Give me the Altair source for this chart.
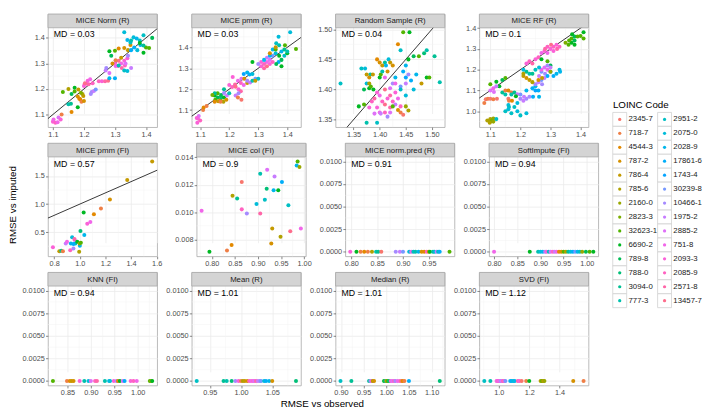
import math
import altair as alt
import pandas as pd

FONT = "Liberation Sans"

codes = ["2345-7", "718-7", "4544-3", "787-2", "786-4", "785-6", "2160-0", "2823-3",
         "32623-1", "6690-2", "789-8", "788-0", "3094-0", "777-3",
         "2951-2", "2075-0", "2028-9", "17861-6", "1743-4", "30239-8", "10466-1",
         "1975-2", "2885-2", "751-8", "2093-3", "2085-9", "2571-8", "13457-7"]

titles = ["MICE Norm (R)", "MICE pmm (R)", "Random Sample (R)", "MICE RF (R)",
          "MICE pmm (FI)", "MICE col (FI)", "MICE norm.pred (R)", "SoftImpute (FI)",
          "KNN (FI)", "Mean (R)", "Median (R)", "SVD (FI)"]
md_values = ["0.03", "0.03", "0.04", "0.1", "0.57", "0.9", "0.91", "0.94", "0.94", "1.01", "1.01", "1.12"]

# (x, y, code index)
p1 = [(1.100,1.072,24),(1.102,1.080,23),(1.108,1.068,25),(1.118,1.088,22),(1.125,1.080,24),(1.115,1.070,23),
      (1.128,1.100,1),(1.160,1.110,2),(1.180,1.128,9),(1.150,1.140,13),(1.158,1.142,12),
      (1.132,1.188,8),(1.150,1.200,5),(1.170,1.205,9),(1.182,1.198,4),
      (1.180,1.170,3),(1.188,1.160,2),(1.192,1.150,1),(1.198,1.172,4),(1.200,1.153,3),(1.185,1.162,2),(1.195,1.180,5),
      (1.160,1.180,10),(1.170,1.190,8),(1.190,1.185,7),
      (1.200,1.212,24),(1.208,1.220,25),(1.215,1.218,26),(1.212,1.232,24),(1.220,1.238,23),(1.228,1.222,25),(1.203,1.222,27),
      (1.225,1.188,20),(1.232,1.192,21),(1.238,1.198,19),(1.222,1.180,20),
      (1.248,1.230,25),(1.258,1.230,24),(1.268,1.230,26),(1.278,1.232,27),(1.282,1.242,16),(1.300,1.242,17),
      (1.270,1.272,21),(1.272,1.282,20),(1.282,1.262,22),
      (1.300,1.300,24),(1.310,1.290,25),(1.320,1.300,23),(1.330,1.310,24),(1.322,1.282,26),(1.312,1.310,27),
      (1.332,1.292,25),(1.340,1.320,24),(1.302,1.290,23),(1.334,1.300,22),
      (1.292,1.300,3),(1.302,1.312,1),(1.320,1.322,4),(1.330,1.360,3),(1.312,1.358,2),(1.342,1.352,4),(1.350,1.372,3),
      (1.288,1.330,10),(1.300,1.350,8),(1.282,1.348,9),(1.330,1.272,14),(1.340,1.270,15),(1.312,1.292,13),
      (1.352,1.282,21),(1.342,1.330,20),
      (1.330,1.422,15),(1.340,1.392,16),(1.350,1.382,14),(1.360,1.402,15),(1.370,1.398,16),(1.380,1.390,14),
      (1.362,1.362,17),(1.372,1.352,15),(1.382,1.372,16),(1.392,1.410,14),(1.352,1.352,17),
      (1.380,1.380,9),(1.400,1.362,8),(1.420,1.400,10),(1.410,1.360,8),(1.392,1.342,9),
      (1.352,1.390,13),(1.392,1.370,12)]

p2 = [(1.090,1.040,24),(1.092,1.060,23),(1.100,1.050,25),(1.095,1.072,22),(1.088,1.062,24),
      (1.110,1.100,1),(1.112,1.112,2),(1.122,1.120,1),
      (1.150,1.170,9),(1.160,1.160,10),(1.152,1.150,8),(1.162,1.142,4),(1.170,1.150,3),(1.180,1.140,5),
      (1.172,1.160,11),(1.160,1.180,8),(1.150,1.180,12),(1.182,1.160,9),(1.142,1.172,7),(1.172,1.172,10),
      (1.150,1.140,2),(1.170,1.140,1),(1.190,1.150,3),(1.182,1.182,20),(1.192,1.170,21),
      (1.200,1.180,13),(1.182,1.200,12),
      (1.200,1.220,24),(1.210,1.210,25),(1.220,1.222,26),(1.212,1.258,24),(1.230,1.240,23),(1.240,1.230,25),
      (1.222,1.212,27),(1.232,1.200,24),(1.240,1.190,26),(1.250,1.220,23),(1.242,1.250,22),
      (1.232,1.180,20),(1.222,1.170,21),(1.230,1.160,1),(1.242,1.150,0),(1.252,1.250,3),(1.262,1.230,4),
      (1.262,1.280,16),(1.270,1.270,17),(1.280,1.272,15),(1.250,1.272,18),
      (1.262,1.240,20),(1.272,1.232,21),(1.290,1.250,19),(1.280,1.240,13),(1.300,1.250,14),(1.290,1.240,4),
      (1.280,1.330,9),
      (1.310,1.310,24),(1.320,1.320,25),(1.330,1.330,23),(1.340,1.320,24),(1.320,1.300,26),(1.330,1.310,27),
      (1.340,1.340,22),(1.350,1.330,25),(1.310,1.330,24),
      (1.300,1.320,20),(1.330,1.350,21),(1.350,1.360,19),
      (1.320,1.340,16),(1.340,1.360,17),(1.360,1.372,15),(1.362,1.420,14),(1.370,1.450,15),(1.380,1.380,16),
      (1.390,1.360,14),(1.370,1.330,17),(1.410,1.472,15),(1.350,1.390,16),
      (1.360,1.390,8),(1.372,1.360,9),(1.380,1.340,10),(1.392,1.410,8),(1.400,1.372,9),(1.430,1.392,8),
      (1.362,1.320,10),(1.380,1.310,9),(1.372,1.410,13),(1.390,1.390,12),(1.400,1.380,13),
      (1.340,1.372,3),(1.360,1.400,4)]

p3 = [(1.325,1.410,14),(1.375,1.345,13),(1.395,1.345,14),
      (1.360,1.372,9),(1.370,1.375,8),(1.370,1.400,10),(1.380,1.402,9),
      (1.365,1.435,14),(1.372,1.435,15),(1.382,1.425,13),(1.375,1.410,15),
      (1.375,1.425,4),(1.380,1.420,3),(1.387,1.425,4),(1.380,1.410,5),(1.383,1.405,8),(1.388,1.400,9),
      (1.395,1.450,2),(1.400,1.445,3),(1.405,1.440,4),(1.400,1.420,9),(1.402,1.425,8),
      (1.405,1.430,13),(1.410,1.445,12),(1.412,1.440,16),(1.417,1.450,15),
      (1.415,1.430,3),(1.420,1.445,4),(1.425,1.440,3),
      (1.435,1.475,2),(1.440,1.465,14),(1.445,1.495,8),(1.457,1.495,9),
      (1.380,1.370,24),(1.385,1.380,25),(1.390,1.385,26),(1.395,1.370,24),(1.400,1.390,23),(1.405,1.380,25),
      (1.410,1.375,27),(1.415,1.385,24),(1.420,1.390,26),(1.425,1.380,25),(1.430,1.395,24),(1.400,1.362,23),
      (1.390,1.360,22),(1.410,1.362,25),(1.420,1.370,26),(1.395,1.395,24),(1.410,1.400,27),(1.435,1.385,23),
      (1.440,1.372,25),
      (1.402,1.360,21),(1.415,1.355,20),(1.420,1.362,22),(1.430,1.375,21),(1.425,1.410,20),(1.440,1.405,19),
      (1.450,1.410,21),(1.455,1.425,20),
      (1.410,1.420,23),(1.420,1.402,22),(1.430,1.410,23),
      (1.430,1.420,16),(1.445,1.430,17),(1.450,1.420,18),(1.450,1.440,16),(1.460,1.415,17),(1.465,1.400,15),
      (1.470,1.425,16),
      (1.455,1.450,9),(1.465,1.455,10),(1.475,1.455,8),(1.485,1.460,11),
      (1.490,1.465,13),(1.505,1.455,12),(1.515,1.412,13),(1.440,1.400,14),(1.450,1.390,15),
      (1.490,1.420,9),(1.495,1.420,8),(1.455,1.365,5),(1.480,1.410,4),
      (1.440,1.362,1),(1.445,1.358,0),(1.435,1.366,3),(1.425,1.372,8),(1.450,1.372,6)]

p4 = [(1.090,0.955,5),(1.100,0.950,6),(1.100,0.962,5),(1.110,0.965,6),(1.105,0.955,7),(1.098,0.945,5),(1.110,0.950,6),
      (1.120,0.962,14),
      (1.080,1.040,1),(1.085,1.058,0),(1.092,1.060,1),(1.100,1.060,0),(1.110,1.058,1),(1.122,1.060,0),
      (1.100,1.130,8),(1.120,1.142,9),(1.140,1.150,10),(1.150,1.160,8),(1.130,1.120,9),
      (1.100,1.100,22),(1.110,1.110,23),(1.120,1.120,21),(1.112,1.092,22),(1.140,1.090,12),(1.150,1.080,13),
      (1.150,1.100,1),(1.160,1.100,2),(1.170,1.090,1),(1.160,1.060,0),(1.162,1.050,1),(1.172,1.050,2),
      (1.150,1.000,14),(1.160,1.030,15),(1.162,1.020,14),(1.160,1.010,15),(1.170,0.990,14),(1.190,1.000,15),
      (1.200,0.980,14),(1.220,0.990,15),(1.180,1.020,14),(1.190,1.040,15),(1.170,1.080,13),(1.180,1.090,12),
      (1.200,1.060,20),(1.210,1.050,21),(1.220,1.060,20),(1.212,1.070,21),(1.230,1.070,20),(1.200,1.080,19),
      (1.190,1.082,21),(1.185,1.072,9),
      (1.220,1.100,16),(1.240,1.110,17),(1.250,1.120,16),(1.250,1.100,18),(1.260,1.100,17),(1.262,1.070,16),
      (1.242,1.070,17),
      (1.250,1.130,20),(1.260,1.140,21),(1.270,1.150,19),(1.272,1.130,20),(1.280,1.160,21),(1.282,1.180,20),
      (1.270,1.190,19),(1.262,1.170,21),(1.270,1.200,23),(1.280,1.210,22),(1.290,1.200,23),
      (1.210,1.170,4),(1.220,1.160,3),(1.230,1.150,4),(1.240,1.140,5),(1.260,1.150,3),(1.272,1.160,4),
      (1.220,1.190,12),(1.230,1.180,13),(1.240,1.180,12),(1.210,1.200,15),(1.250,1.200,14),(1.262,1.210,15),
      (1.220,1.230,24),(1.230,1.240,25),(1.240,1.230,26),(1.250,1.250,24),(1.260,1.260,25),(1.270,1.280,23),
      (1.280,1.290,24),(1.282,1.300,26),(1.290,1.310,25),(1.300,1.300,24),(1.302,1.320,27),(1.310,1.310,25),
      (1.320,1.320,24),(1.322,1.300,26),(1.330,1.310,25),(1.290,1.280,23),(1.310,1.290,24),
      (1.270,1.250,9),(1.290,1.240,8),(1.300,1.220,10),
      (1.300,1.190,16),(1.310,1.170,17),(1.320,1.180,16),(1.330,1.200,15),(1.332,1.190,16),(1.290,1.170,17),
      (1.290,1.220,20),(1.300,1.210,21),
      (1.360,1.320,8),(1.370,1.330,9),(1.370,1.350,8),(1.380,1.360,10),(1.390,1.360,8),(1.410,1.380,9),
      (1.410,1.350,8),(1.372,1.370,9),(1.380,1.340,10),(1.362,1.340,8),(1.380,1.320,9),(1.400,1.362,8),
      (1.210,1.180,5),(1.300,1.190,6),(1.350,1.330,7)]

p5 = [(0.790,0.23,24),(0.840,0.16,4),(0.855,0.17,12),(0.868,0.16,1),(0.890,0.30,21),(0.900,0.33,23),
      (0.925,0.18,25),(0.950,0.21,20),(0.940,0.41,15),(0.930,0.30,16),(0.965,0.30,14),(0.950,0.29,17),
      (0.960,0.36,21),(0.958,0.38,26),(0.980,0.33,9),(1.000,0.26,16),(0.998,0.30,6),(0.995,0.15,5),
      (1.008,0.31,8),(1.005,0.52,11),(1.035,0.45,16),(1.030,0.85,9),(1.058,0.65,24),(1.082,0.68,23),
      (1.110,0.82,2),(1.165,0.92,1),(1.235,1.08,3),(1.370,1.43,4),(1.565,1.76,4)]

p6 = [(0.778,0.0101,23),(0.795,0.0071,9),(0.833,0.0072,1),(0.843,0.0076,2),(0.845,0.0112,5),(0.855,0.0110,12),
      (0.865,0.0122,0),(0.865,0.0102,25),(0.876,0.0099,20),(0.897,0.0106,15),(0.905,0.0128,13),(0.905,0.0099,26),
      (0.915,0.0109,14),(0.919,0.0117,11),(0.920,0.0131,22),(0.931,0.0088,4),(0.934,0.0116,16),(0.936,0.0126,21),
      (0.929,0.0077,3),(0.944,0.0116,9),(0.952,0.0122,17),(0.949,0.0082,5),(0.966,0.0105,14),(0.970,0.0086,27),
      (0.984,0.0134,16),(0.986,0.0137,8),(0.990,0.0133,6),(0.993,0.0088,23)]

# panels whose imputed RMSE is 0 for every code: x values and code indexes
p7_x = [0.798,0.810,0.818,0.825,0.832,0.840,0.848,0.852,0.858,0.886,0.894,0.900,0.912,0.916,0.920,0.924,
        0.930,0.936,0.941,0.946,0.950,0.952,0.958,0.961,0.965,0.968,0.971,0.990]
p7_c = [24,9,1,2,1,5,13,12,0,20,21,19,15,23,14,13,16,3,2,25,4,9,12,15,21,14,17,8]
p8_x = [0.800,0.877,0.895,0.900,0.905,0.910,0.913,0.918,0.922,0.927,0.931,0.935,0.940,0.945,0.950,0.955,
        0.960,0.965,0.970,0.975,0.980,0.985,0.990,0.998,1.006,1.014]
p8_c = [23,9,13,15,16,20,24,14,22,25,21,23,2,3,8,5,12,15,17,19,16,14,6,10,8,9]
p9_x = [0.819,0.849,0.855,0.859,0.863,0.876,0.886,0.895,0.900,0.909,0.913,0.930,0.939,0.941,0.949,0.955,
        0.958,0.962,0.968,0.972,0.985,0.991,0.998,1.026,1.029,1.031]
p9_c = [8,1,2,4,3,24,13,15,22,25,26,13,16,15,24,20,2,9,22,17,24,25,23,8,6,9]
p10_x = [0.929,0.972,0.977,0.985,0.991,0.996,1.000,1.003,1.006,1.010,1.013,1.016,1.019,1.021,1.024,1.027,
         1.030,1.032,1.037,1.040,1.045,1.050,1.088]
p10_c = [14,12,13,11,20,24,1,5,4,3,25,23,24,22,26,21,20,19,15,17,16,3,11]
p11_x = [0.899,0.923,0.962,0.965,0.968,0.970,0.973,0.995,0.998,1.000,1.003,1.006,1.010,1.013,1.017,1.020,
         1.025,1.030,1.033,1.036,1.040,1.050,1.118]
p11_c = [14,12,12,20,23,5,3,9,13,5,8,11,24,22,25,20,23,24,0,2,1,17,11]
p12_x = [0.904,0.944,0.985,0.990,0.995,1.000,1.005,1.010,1.015,1.020,1.028,1.035,1.043,1.075,1.085,1.095,
         1.105,1.125,1.135,1.150,1.180,1.200,1.275,1.285,1.292,1.300,1.490,1.558]
p12_c = [14,13,24,22,25,23,24,21,20,22,26,24,19,16,17,15,16,26,24,0,1,9,5,8,4,6,3,1]
zero_y_range = [0.0, 0.01]

# tick labels per panel
x_ticks = [[1.1,1.2,1.3,1.4],[1.1,1.2,1.3,1.4],[1.35,1.40,1.45,1.50],[1.1,1.2,1.3,1.4],
           [0.8,1.0,1.2,1.4,1.6],[0.80,0.85,0.90,0.95,1.00],[0.80,0.85,0.90,0.95,1.00],[0.80,0.85,0.90,0.95,1.00],
           [0.85,0.90,0.95,1.00],[0.95,1.00,1.05],[0.90,0.95,1.00,1.05,1.10],[1.0,1.2,1.4]]
x_fmt = [".1f",".1f",".2f",".1f",".1f",".2f",".2f",".2f",".2f",".2f",".2f",".1f"]
y_zero_ticks = [0.0,0.0025,0.005,0.0075,0.01]
y_ticks = [[1.1,1.2,1.3,1.4],[1.1,1.2,1.3,1.4],[1.35,1.40,1.45,1.50],[1.0,1.1,1.2,1.3,1.4],
           [0.5,1.0,1.5],[0.008,0.010,0.012,0.014]] + [y_zero_ticks] * 6
y_fmt = [".1f",".1f",".2f",".1f",".1f",".3f"] + [".4f"] * 6


def hcl_hex(h, c=100.0, l=65.0):
    xn, yn, zn = 95.047, 100.0, 108.883
    den = xn + 15 * yn + 3 * zn
    un, vn = 4 * xn / den, 9 * yn / den
    hr = math.radians(h)
    u, v = c * math.cos(hr), c * math.sin(hr)
    Y = yn * ((l + 16) / 116) ** 3
    up, vp = u / (13 * l) + un, v / (13 * l) + vn
    X = Y * 9 * up / (4 * vp)
    Z = Y * (12 - 3 * up - 20 * vp) / (4 * vp)
    X, Y, Z = X / 100, Y / 100, Z / 100
    r = 3.2404542 * X - 1.5371385 * Y - 0.4985314 * Z
    g = -0.9692660 * X + 1.8760108 * Y + 0.0415560 * Z
    b = 0.0556434 * X - 0.2040259 * Y + 1.0572252 * Z

    def gam(t):
        t = 12.92 * t if t <= 0.0031308 else 1.055 * (max(t, 0) ** (1 / 2.4)) - 0.055
        return min(1.0, max(0.0, t))
    return "#%02x%02x%02x" % tuple(int(round(gam(t) * 255)) for t in (r, g, b))


palette = [hcl_hex(15 + 360 * i / len(codes)) for i in range(len(codes))]
cscale = alt.Scale(domain=codes, range=palette)

W, PH, SH = 112, 102, 14
H = PH + SH
EY, EX = 28, 11

axis_common = dict(title=None, labelFont=FONT, labelFontSize=7.5, labelColor="#4d4d4d",
                   tickColor="#333333", tickSize=2.5, tickWidth=0.6, domain=False, grid=True,
                   gridColor="#ebebeb", gridWidth=0.8, labelPadding=1.2)


def expand(lo, hi, f=0.05):
    r = hi - lo
    return [lo - f * r, hi + f * r]


def minors(ticks, dom):
    s = ticks[1] - ticks[0]
    cand = [ticks[0] - s / 2] + [t + s / 2 for t in ticks]
    return [m for m in cand if dom[0] <= m <= dom[1]]


def panel(k, pts, yrange=None):
    df = pd.DataFrame(pts, columns=["x", "y", "ci"])
    df["code"] = [codes[i] for i in df["ci"]]
    xd = expand(df["x"].min(), df["x"].max())
    yd = expand(*(yrange if yrange else (df["y"].min(), df["y"].max())))
    xs = alt.Scale(domain=xd, nice=False, zero=False)
    ys = alt.Scale(domain=yd, nice=False, zero=False, range=[H, SH])
    xt = [t for t in x_ticks[k] if xd[0] <= t <= xd[1]]
    yt = [t for t in y_ticks[k] if yd[0] <= t <= yd[1]]
    ax = alt.Axis(values=xt, format=x_fmt[k], labelFlush=False, minExtent=EX, maxExtent=EX, **axis_common)
    ay = alt.Axis(values=yt, format=y_fmt[k], minExtent=EY, maxExtent=EY, **axis_common)

    mx = alt.Chart(pd.DataFrame({"v": minors(x_ticks[k], xd)})).mark_rule(
        color="#f3f3f3", strokeWidth=0.5).encode(x=alt.X("v:Q", scale=xs, axis=ax))
    my = alt.Chart(pd.DataFrame({"v": minors(y_ticks[k], yd)})).mark_rule(
        color="#f3f3f3", strokeWidth=0.5).encode(y=alt.Y("v:Q", scale=ys, axis=ay))
    lo, hi = min(xd[0], yd[0]), max(xd[1], yd[1])
    line = alt.Chart(pd.DataFrame({"x": [lo, hi], "y": [lo, hi]})).mark_line(
        color="black", strokeWidth=0.8, clip=True).encode(
        x=alt.X("x:Q", scale=xs, axis=ax), y=alt.Y("y:Q", scale=ys, axis=ay))
    points = alt.Chart(df).mark_circle(size=17, opacity=1).encode(
        x=alt.X("x:Q", scale=xs, axis=ax), y=alt.Y("y:Q", scale=ys, axis=ay),
        color=alt.Color("code:N", scale=cscale, legend=None))
    md = alt.Chart(pd.DataFrame({"t": ["MD = " + md_values[k]]})).mark_text(
        align="left", baseline="middle", fontSize=9, font=FONT, color="black").encode(
        x=alt.value(6), y=alt.value(SH + 7), text="t:N")
    strip = alt.Chart(pd.DataFrame({"t": [titles[k]]})).mark_rect(
        fill="#d4d4d4", stroke="#a8a8a8", strokeWidth=0.8).encode(
        x=alt.value(0), x2=alt.value(W), y=alt.value(0), y2=alt.value(SH))
    stext = alt.Chart(pd.DataFrame({"t": [titles[k]]})).mark_text(
        baseline="middle", fontSize=8, font=FONT, color="#1a1a1a").encode(
        x=alt.value(W / 2), y=alt.value(SH / 2 + 0.5), text="t:N")
    return alt.layer(mx, my, line, points, md, strip, stext).properties(width=W, height=H)


def zero_pts(xs, cs):
    return [(x, 0.0, c) for x, c in zip(xs, cs)]


panels = [panel(0, p1), panel(1, p2), panel(2, p3), panel(3, p4), panel(4, p5), panel(5, p6),
          panel(6, zero_pts(p7_x, p7_c), zero_y_range), panel(7, zero_pts(p8_x, p8_c), zero_y_range),
          panel(8, zero_pts(p9_x, p9_c), zero_y_range), panel(9, zero_pts(p10_x, p10_c), zero_y_range),
          panel(10, zero_pts(p11_x, p11_c), zero_y_range), panel(11, zero_pts(p12_x, p12_c), zero_y_range)]

rows = [alt.hconcat(*panels[r * 4:(r + 1) * 4], spacing=5.5).resolve_scale(x="independent", y="independent")
        for r in range(3)]
grid = alt.vconcat(*rows, spacing=3.5).resolve_scale(x="independent", y="independent").properties(
    title=alt.TitleParams("RMSE vs imputed", orient="left", anchor="middle", fontSize=10, font=FONT,
                          fontWeight="normal", color="black", offset=2))
mid = alt.vconcat(grid).resolve_scale(x="independent", y="independent").properties(
    title=alt.TitleParams("RMSE vs observed", orient="bottom", anchor="middle", fontSize=10, font=FONT,
                          fontWeight="normal", color="black", offset=2.5, dx=19))

# legend
leg = pd.DataFrame({"code": codes, "col": [i // 14 for i in range(len(codes))],
                    "row": [i % 14 for i in range(len(codes))]})
lx = alt.Scale(domain=[0, 1], range=[7, 53])
ly = alt.Scale(domain=[0, 13], range=[108, 294])
keys = alt.Chart(leg).mark_square(size=204, filled=True, fill="white", stroke="#d0d0d0",
                                  strokeWidth=0.8, opacity=1).encode(
    x=alt.X("col:Q", scale=lx, axis=None), y=alt.Y("row:Q", scale=ly, axis=None))
dots = alt.Chart(leg).mark_circle(size=11, opacity=1).encode(
    x=alt.X("col:Q", scale=lx, axis=None), y=alt.Y("row:Q", scale=ly, axis=None),
    color=alt.Color("code:N", scale=cscale, legend=None))
labs = alt.Chart(leg).mark_text(align="left", baseline="middle", dx=9, fontSize=8, font=FONT,
                                color="#1a1a1a").encode(
    x=alt.X("col:Q", scale=lx, axis=None), y=alt.Y("row:Q", scale=ly, axis=None), text="code:N")
ltitle = alt.Chart(pd.DataFrame({"t": ["LOINC Code"]})).mark_text(
    align="left", baseline="middle", fontSize=10, font=FONT, color="black").encode(
    x=alt.value(0), y=alt.value(93), text="t:N")
legend = alt.layer(keys, dots, labs, ltitle).properties(
    width=95, height=300, view=alt.ViewBackground(stroke="transparent"))

chart = alt.hconcat(mid, legend, spacing=10.5).resolve_scale(x="independent", y="independent").properties(
    padding={"left": 0, "top": 0, "right": 0, "bottom": 0}, background="white"
).configure(font=FONT).configure_view(stroke="#a8a8a8", strokeWidth=0.8)

chart.save("out.html", embed_options={"renderer": "svg", "actions": False})
